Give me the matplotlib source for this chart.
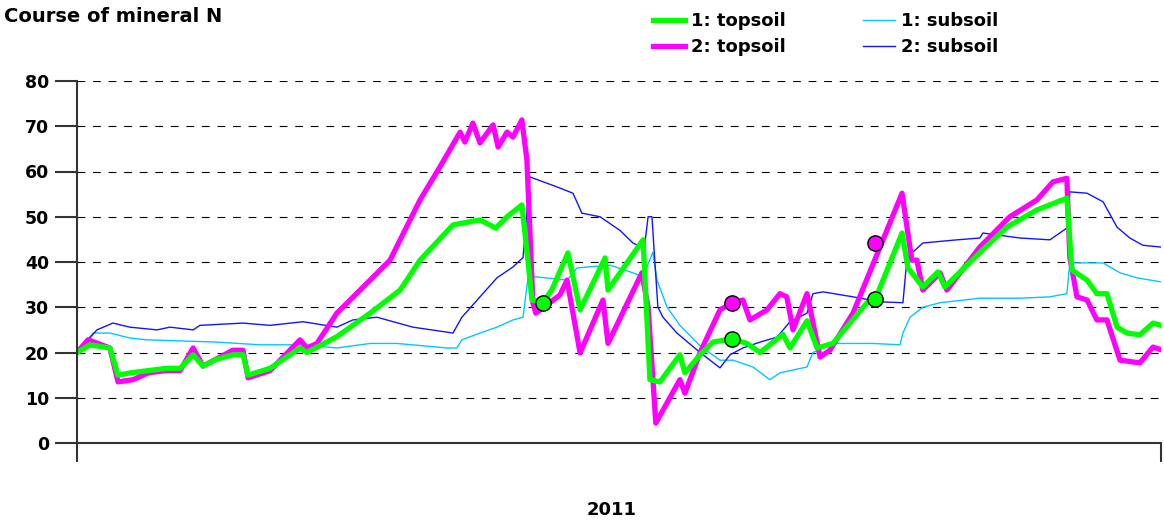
import matplotlib
matplotlib.use("Agg")
import matplotlib.pyplot as plt
from matplotlib.lines import Line2D

# day of year / mineral N
top1_day = [0, 4.4, 11.1, 13.8, 18, 24, 30, 34.7, 39.1, 42.4, 47, 52.5, 55.9, 57.6, 65, 75.1, 77.4,
            87.5, 98.7, 108.8, 115.5, 126.6, 135.7, 141, 144.8, 149.8, 151.9, 153.2, 156.9, 160,
            165.3, 169.4, 177.8, 178.8, 190.6, 192.9, 196.3, 203, 204.7, 209.8, 214.1, 220.5,
            225.6, 230, 237.7, 240.1, 245.8, 249.2, 254.5, 266, 268.7, 277.8, 279.8, 284.8, 289.9,
            292.2, 305, 313.1, 323.2, 333.3, 335, 340.1, 343.4, 346.8, 350.2, 353.5, 357.9, 362.3, 365]
top1_val = [20, 21.7, 21, 15, 15.5, 16, 16.5, 16.5, 19.5, 17, 18.5, 19.5, 19.5, 15, 16.5, 21, 20,
            23.5, 28.7, 33.8, 40.4, 48.2, 49.3, 47.5, 50, 52.6, 40, 31.6, 31, 34,
            42, 29.4, 40.9, 33.8, 44.9, 14, 13.5, 19.5, 15.5, 19.5, 22.3, 23,
            22, 20, 24, 21, 27, 21, 22, 31, 31.6, 46.4, 38.7, 34.5, 37.8,
            34.5, 42.7, 47.7, 51.5, 54.1, 38.2, 36, 33, 33, 25.6, 24.3, 23.9, 26.5, 26]

top2_day = [0, 3.7, 11.1, 13.8, 18.9, 24, 30, 34.7, 39.1, 42.4, 52.5, 55.9, 57.6, 65, 75.1, 77.4,
            80.8, 87.5, 98.7, 105.4, 115.5, 122.2, 129, 130.6, 133.3, 135.7, 140.1, 141.8, 144.8,
            146.8, 149.8, 151.5, 153.5, 154.5, 162.6, 165, 169.4, 177.1, 178.8, 190.2, 192.3, 194.9,
            203, 204.7, 209.8, 216.5, 220.5, 224.2, 226.6, 232.3, 236.7, 239, 241.1, 245.8, 250.2,
            253.5, 261.3, 277.8, 281.1, 282.8, 284.8, 290.6, 292.9, 304, 314.1, 323.2, 328.6, 333.3,
            334.3, 336.7, 340.1, 343.4, 346.8, 351.2, 357.9, 362.3, 365]
top2_val = [20, 22.8, 21, 13.5, 14, 15.5, 16, 16, 21, 17, 20.5, 20.5, 14.4, 16, 22.8, 21,
            22, 28.7, 36, 40.4, 53.7, 61, 68.7, 66.5, 70.7, 66.3, 70.3, 65.4, 68.7,
            67.6, 71.4, 62.5, 31, 28.7, 32.7, 36, 19.9, 31.6, 22, 37.6, 30, 4.4,
            14, 11, 20, 29.4, 31, 31.6, 27.2, 29.4, 33, 32.3, 25, 33, 19,
            20.5, 28.7, 55.2, 40.4, 40.4, 33.8, 37.6, 33.8, 43.3, 50, 53.7, 57.7, 58.5,
            41, 32.3, 31.6, 27.2, 27.2, 18.3, 17.7, 21.2, 20.6]

sub1_day = [0, 5.4, 11.1, 17.8, 23.6, 47.1, 61.6, 76.1, 87.5, 98.7, 107.7, 124.6, 127.9, 129.6,
            135.7, 141.4, 146.8, 150.2, 151.9, 154.9, 165, 168.4, 179.5, 187.2, 190.6, 193.9, 195.3,
            198.7, 203, 209.8, 216.5, 220.9, 227.6, 233.3, 236.7, 245.8, 247.8, 254.5, 268, 277.1,
            278.1, 280.5, 284.8, 290.6, 304, 317.5, 327.6, 333.3, 334.3, 345.5, 351.2, 356.9, 365]
sub1_val = [20, 24.3, 24.3, 23.2, 22.8, 22.3, 21.7, 21.7, 21, 22, 22, 21, 21, 22.8,
            24.3, 25.6, 27.2, 27.8, 36.7, 36.7, 36, 38.7, 39.3, 37.6, 36.7, 42.2, 36,
            30, 26, 21.5, 18.3, 18.3, 16.8, 14, 15.5, 16.8, 20, 22, 22, 21.7,
            24.3, 27.8, 30, 31, 32, 32, 32.3, 33, 39.8, 39.8, 37.6, 36.5, 35.6]

sub2_day = [0, 6.7, 12.1, 17.8, 26.9, 31.3, 39.1, 41.4, 55.9, 65, 76.1, 87.5, 92.9, 101, 113.1,
            126.6, 129.6, 135.7, 141.4, 146.8, 150.2, 152.5, 161.6, 167, 170, 176.1, 182.8, 187.2,
            191, 192.3, 193.6, 194.6, 195.6, 197.3, 202, 209.8, 216.5, 219.9, 224.2, 230, 235.7,
            240.1, 245.8, 247.8, 251.2, 261.3, 270.4, 278.1, 279.5, 284.8, 296.3, 304, 305, 317.5,
            327.6, 333.3, 334.3, 340.1, 345.5, 350.2, 354.5, 358.9, 365]
sub2_val = [20, 25, 26.5, 25.6, 25, 25.6, 25, 26, 26.5, 26, 26.8, 25.6, 27.2, 27.8, 25.6,
            24.3, 27.8, 32.3, 36.5, 38.9, 41, 58.8, 56.6, 55.2, 50.8, 50, 47, 44.2,
            43, 50, 50, 39.8, 30, 27.8, 24.3, 20, 16.6, 19.5, 21, 22.3, 23.4,
            26.8, 28.7, 33, 33.4, 32.3, 31.2, 31, 41, 44.2, 44.9, 45.3, 46.4, 45.3,
            44.9, 47.5, 55.5, 55.2, 53.3, 47.7, 45.3, 43.7, 43.3]

# sampled points
pts1_day = [156.9, 220.5, 268.7]
pts1_val = [31, 23, 31.8]
pts2_day = [220.5, 268.7]
pts2_val = [31, 44.2]

labels = ["1: topsoil", "2: topsoil", "1: subsoil", "2: subsoil"]
yticks = [0, 10, 20, 30, 40, 50, 60, 70, 80]

green = "#00ff00"
magenta = "#ff00ff"
cyan = "#00c8ff"
blue = "#1414ff"

plt.rcParams["font.family"] = ["DejaVu Sans"]
plt.rcParams["font.weight"] = "bold"

fig = plt.figure(figsize=(11.64, 5.22), dpi=100)
ax = fig.add_axes([77 / 1164, 79 / 522, 1084 / 1164, 362 / 522])

for y in yticks[1:]:
    ax.axhline(y, color="black", lw=0.8, linestyle=(0, (7, 7)), zorder=1)

ax.plot(sub1_day, sub1_val, color=cyan, lw=1.0, zorder=2)
ax.plot(sub2_day, sub2_val, color=blue, lw=1.0, zorder=2)
ax.plot(top2_day, top2_val, color=magenta, lw=3.8, zorder=3)
ax.plot(top1_day, top1_val, color=green, lw=3.8, zorder=4)
ax.plot(pts1_day, pts1_val, "o", color=green, mec="black", mew=1, ms=11, zorder=5)
ax.plot(pts2_day, pts2_val, "o", color=magenta, mec="black", mew=1, ms=11, zorder=5)

ax.set_xlim(0, 365)
ax.set_ylim(0, 80)
for s in ["top", "right"]:
    ax.spines[s].set_visible(False)
for s in ["left", "bottom"]:
    ax.spines[s].set_color("#333333")
    ax.spines[s].set_linewidth(1.5)
ax.spines["left"].set_zorder(6)

ax.set_yticks(yticks)
ax.set_yticklabels([str(v) for v in yticks], fontsize=12.5, fontweight="bold")
ax.tick_params(axis="y", length=16, width=1.5, color="#333333", pad=4)
ax.set_xticks([0, 365])
ax.set_xticklabels(["", ""])
ax.tick_params(axis="x", length=14, width=1.5, color="#333333")

fig.text(4 / 1164, 1 - 17 / 522, "Course of mineral N", fontsize=14, fontweight="bold",
         va="center", ha="left")
fig.text(612 / 1164, 1 - 510 / 522, "2011", fontsize=13, fontweight="bold", va="center", ha="center")

handles = [Line2D([], [], color=green, lw=3.8), Line2D([], [], color=magenta, lw=3.8),
           Line2D([], [], color=cyan, lw=1.0), Line2D([], [], color=blue, lw=1.0)]
fig.legend(handles, labels, ncol=2, loc="upper left", bbox_to_anchor=(644 / 1164, 1 - 3 / 522),
           frameon=False, borderpad=0, handlelength=1.75, handletextpad=0.35, columnspacing=4.3,
           labelspacing=0.45, prop={"size": 13, "weight": "bold"})

fig.savefig("out.png", dpi=100)
